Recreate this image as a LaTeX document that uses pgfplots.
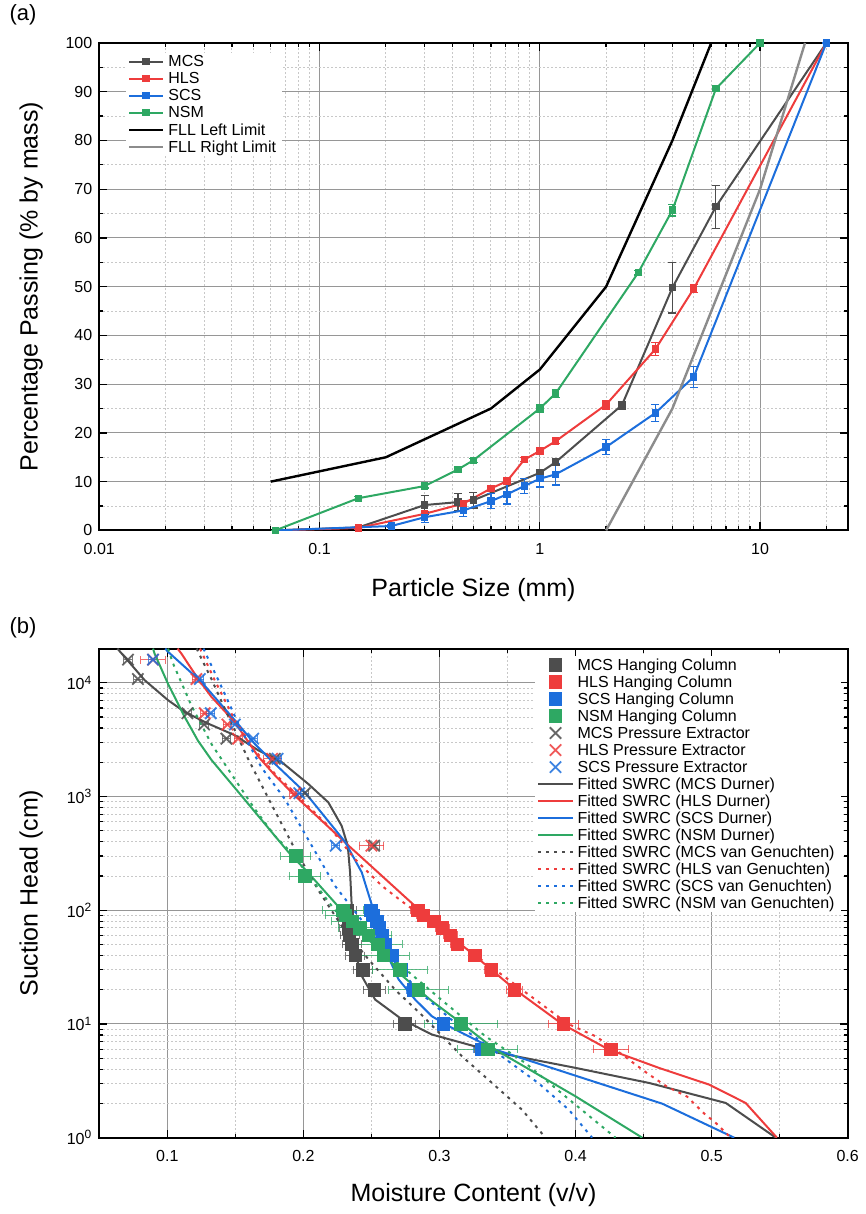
\documentclass[border=0pt]{standalone}
\usepackage{fontspec}
\setmainfont{Liberation Sans}
\usepackage{pgfplots}
\pgfplotsset{compat=1.18}
\definecolor{cmcs}{RGB}{77,77,77}
\definecolor{chls}{RGB}{238,60,60}
\definecolor{cscs}{RGB}{28,110,220}
\definecolor{cnsm}{RGB}{46,168,99}
\definecolor{cfllr}{RGB}{140,140,140}
\definecolor{gmaj}{RGB}{150,150,150}
\definecolor{gmin}{RGB}{200,200,200}
\pgfplotsset{
  myaxis/.style={
    scale only axis,
    axis line style={line width=1pt},
    tick align=inside,
    major tick length=4pt,
    minor tick length=2pt,
    every tick/.style={black, line width=0.6pt},
    grid=both,
    major grid style={gmaj, line width=0.5pt},
    minor grid style={gmin, line width=0.5pt, dash pattern=on 1pt off 1pt},
    tick label style={font=\fontsize{8}{9.6}\selectfont},
    label style={font=\fontsize{12.5}{15}\selectfont},
    /pgf/number format/assume math mode=true,
    legend cell align=left,
    legend style={draw=none, fill=white, font=\fontsize{8}{9.6}\selectfont,
      inner xsep=1pt, inner ysep=0pt, nodes={inner xsep=2pt, inner ysep=0.15pt}},
  },
  pa/.style={line width=1pt, mark=square*, mark size=1.35pt, mark options={solid},
    error bars/.cd, y dir=both, y explicit, error bar style={line width=0.6pt},
    error mark options={rotate=90, mark size=2pt, line width=0.6pt}},
  hc/.style={only marks, mark=square*, mark size=3.1pt,
    error bars/.cd, x dir=both, x explicit, error bar style={line width=0.5pt, opacity=0.75},
    error mark options={rotate=90, mark size=2pt, line width=0.5pt, opacity=0.75}},
  pe/.style={only marks, mark=x, mark size=4pt, mark options={line width=0.9pt, opacity=0.85},
    error bars/.cd, x dir=both, x explicit, error bar style={line width=0.5pt, opacity=0.75},
    error mark options={rotate=90, mark size=2pt, line width=0.5pt, opacity=0.75}},
  dur/.style={line width=1pt, no marks},
  vg/.style={line width=1pt, no marks, dash pattern=on 1.5pt off 2.5pt},
}
\begin{document}
\begin{tikzpicture}
\useasboundingbox (0,0) rectangle (433pt,607pt);
\node[font=\fontsize{11}{13}\selectfont] at (11.5pt,599.5pt) {(a)};
\node[font=\fontsize{11}{13}\selectfont] at (11.5pt,293pt) {(b)};
% ---------------- panel (a)
\begin{axis}[myaxis, at={(49.65pt,341.8pt)}, anchor=south west,
  width=374.2pt, height=243.7pt,
  xmode=log, xmin=0.01, xmax=25, ymin=0, ymax=100,
  xtick={0.01,0.1,1,10}, xticklabels={0.01,0.1,1,10},
  minor xtick={0.02,0.03,0.04,0.05,0.06,0.07,0.08,0.09,0.2,0.3,0.4,0.5,0.6,0.7,0.8,0.9,2,3,4,5,6,7,8,9,20},
  ytick={0,10,20,30,40,50,60,70,80,90,100}, minor ytick={5,15,25,35,45,55,65,75,85,95},
  xticklabel style={yshift=-3pt},
  xlabel={Particle Size (mm)}, ylabel={Percentage Passing (\% by mass)},
  xlabel style={at={(axis description cs:0.5,-0.1223)}, anchor=center},
  ylabel style={at={(axis description cs:-0.0912,0.5)}, anchor=center},
  legend style={at={(axis description cs:0.035,0.98)}, anchor=north west},
]
\addplot[color=cmcs, pa] coordinates {
 (0.063,0) +- (0,0)
 (0.15,0.6) +- (0,0.2)
 (0.3,5.2) +- (0,2.0)
 (0.425,5.8) +- (0,1.7)
 (0.5,6.2) +- (0,1.6)
 (1.0,11.8) +- (0,0.6)
 (1.18,14.0) +- (0,0.6)
 (2.36,25.7) +- (0,0.8)
 (4.0,49.8) +- (0,5.2)
 (6.3,66.4) +- (0,4.4)
 (20,100) +- (0,0)
};
\addlegendentry{\strut MCS}
\addplot[color=chls, pa] coordinates {
 (0.063,0) +- (0,0)
 (0.15,0.5) +- (0,0.2)
 (0.3,3.4) +- (0,0.5)
 (0.45,5.5) +- (0,0.5)
 (0.6,8.6) +- (0,0.4)
 (0.71,10.1) +- (0,0.3)
 (0.85,14.5) +- (0,0.4)
 (1.0,16.3) +- (0,0.4)
 (1.18,18.3) +- (0,0.4)
 (2.0,25.8) +- (0,0.9)
 (3.35,37.2) +- (0,1.4)
 (5.0,49.6) +- (0,0.8)
 (20,100) +- (0,0)
};
\addlegendentry{\strut HLS}
\addplot[color=cscs, pa] coordinates {
 (0.063,0) +- (0,0)
 (0.212,0.9) +- (0,0.3)
 (0.3,2.7) +- (0,1.0)
 (0.45,4.1) +- (0,1.3)
 (0.6,6.0) +- (0,1.5)
 (0.71,7.4) +- (0,2.0)
 (0.85,9.1) +- (0,1.6)
 (1.0,10.6) +- (0,1.7)
 (1.18,11.5) +- (0,2.2)
 (2.0,17.1) +- (0,1.6)
 (3.35,24.1) +- (0,1.8)
 (5.0,31.5) +- (0,2.2)
 (20,100) +- (0,0)
};
\addlegendentry{\strut SCS}
\addplot[color=cnsm, pa] coordinates {
 (0.063,0) +- (0,0)
 (0.15,6.6) +- (0,0.3)
 (0.3,9.1) +- (0,0.4)
 (0.425,12.5) +- (0,0.4)
 (0.5,14.4) +- (0,0.4)
 (1.0,25.0) +- (0,0.8)
 (1.18,28.1) +- (0,0.8)
 (2.8,52.9) +- (0,0.5)
 (4.0,65.7) +- (0,1.2)
 (6.3,90.6) +- (0,0.4)
 (10,100) +- (0,0)
};
\addlegendentry{\strut NSM}
\addplot[black, line width=1.2pt] coordinates {(0.06,10) (0.2,15) (0.6,25) (1,33) (2,50) (4,80) (6,100)};
\addlegendentry{\strut FLL Left Limit}
\addplot[cfllr, line width=1.2pt] coordinates {(2,0) (4,25) (10,70) (16,100)};
\addlegendentry{\strut FLL Right Limit}
\end{axis}
% ---------------- panel (b)
\begin{axis}[myaxis, at={(49.65pt,38.15pt)}, anchor=south west,
  width=374.2pt, height=244.55pt,
  ymode=log, xmin=0.05, xmax=0.6, ymin=1, ymax=20000,
  xtick={0.1,0.2,0.3,0.4,0.5,0.6}, xticklabels={0.1,0.2,0.3,0.4,0.5,0.6},
  minor xtick={0.05,0.15,0.25,0.35,0.45,0.55},
  ytick={1,10,100,1000,10000},
  yticklabels={10\textsuperscript{0},10\textsuperscript{1},10\textsuperscript{2},10\textsuperscript{3},10\textsuperscript{4}},
  minor ytick={2,3,4,5,6,7,8,9,20,30,40,50,60,70,80,90,200,300,400,500,600,700,800,900,2000,3000,4000,5000,6000,7000,8000,9000},
  xticklabel style={yshift=-3pt},
  xlabel={Moisture Content (v/v)}, ylabel={Suction Head (cm)},
  xlabel style={at={(axis description cs:0.5,-0.1172)}, anchor=center},
  ylabel style={at={(axis description cs:-0.0912,0.5)}, anchor=center},
  legend style={at={(axis description cs:0.991,0.985)}, anchor=north east},
]
\addplot[color=cmcs, hc] coordinates {
 (0.232,100) +- (0.007,0) (0.232,90) +- (0.007,0) (0.233,80) +- (0.007,0)
 (0.2335,70) +- (0.007,0) (0.234,60) +- (0.007,0) (0.2355,50) +- (0.007,0)
 (0.238,40) +- (0.007,0) (0.2436,30) +- (0.007,0) (0.252,20) +- (0.008,0)
 (0.2745,10) +- (0.008,0) (0.331,6) +- (0.005,0)
};
\addlegendentry{\strut MCS Hanging Column}
\addplot[color=chls, hc] coordinates {
 (0.284,100) +- (0.005,0) (0.288,90) +- (0.005,0) (0.296,80) +- (0.005,0)
 (0.302,70) +- (0.005,0) (0.308,60) +- (0.005,0) (0.313,50) +- (0.005,0)
 (0.326,40) +- (0.005,0) (0.338,30) +- (0.005,0) (0.355,20) +- (0.006,0)
 (0.391,10) +- (0.011,0) (0.426,6) +- (0.013,0)
};
\addlegendentry{\strut HLS Hanging Column}
\addplot[color=cscs, hc] coordinates {
 (0.2495,100) +- (0.004,0) (0.251,90) +- (0.004,0) (0.254,80) +- (0.004,0)
 (0.256,70) +- (0.004,0) (0.258,60) +- (0.004,0) (0.26,50) +- (0.004,0)
 (0.2655,40) +- (0.004,0) (0.272,30) +- (0.004,0) (0.281,20) +- (0.005,0)
 (0.303,10) +- (0.008,0) (0.331,6) +- (0.006,0)
};
\addlegendentry{\strut SCS Hanging Column}
\addplot[color=cnsm, hc] coordinates {
 (0.1945,300) +- (0.011,0) (0.2011,200) +- (0.0115,0)
 (0.229,100) +- (0.015,0) (0.231,90) +- (0.015,0) (0.236,80) +- (0.015,0)
 (0.2416,70) +- (0.016,0) (0.2478,60) +- (0.017,0) (0.2547,50) +- (0.018,0)
 (0.2588,40) +- (0.019,0) (0.271,30) +- (0.02,0) (0.2846,20) +- (0.022,0)
 (0.3158,10) +- (0.027,0) (0.3356,6) +- (0.022,0)
};
\addlegendentry{\strut NSM Hanging Column}
\addplot[color=cmcs, pe] coordinates {
 (0.0711,16000) +- (0.003,0) (0.0784,10800) +- (0.003,0) (0.1147,5400) +- (0.003,0)
 (0.127,4300) +- (0.003,0) (0.1434,3230) +- (0.003,0) (0.179,2150) +- (0.003,0)
 (0.201,1070) +- (0.003,0) (0.252,370) +- (0.004,0)
};
\addlegendentry{\strut MCS Pressure Extractor}
\addplot[color=chls, pe] coordinates {
 (0.0895,16000) +- (0.009,0) (0.1214,10800) +- (0.003,0) (0.1275,5400) +- (0.003,0)
 (0.1442,4300) +- (0.003,0) (0.152,3230) +- (0.003,0) (0.177,2150) +- (0.006,0)
 (0.194,1070) +- (0.004,0) (0.250,370) +- (0.009,0)
};
\addlegendentry{\strut HLS Pressure Extractor}
\addplot[color=cscs, pe] coordinates {
 (0.0895,16000) +- (0.003,0) (0.1239,10800) +- (0.003,0) (0.1319,5400) +- (0.003,0)
 (0.1496,4300) +- (0.003,0) (0.1631,3230) +- (0.003,0) (0.181,2150) +- (0.003,0)
 (0.197,1070) +- (0.003,0) (0.2237,370) +- (0.003,0)
};
\addlegendentry{\strut SCS Pressure Extractor}
\addplot[color=cmcs, dur] coordinates {
 (0.0633,20000) (0.0686,16900) (0.0833,10560) (0.1005,7040) (0.1128,5540) (0.130,4380)
 (0.1496,3460) (0.1668,2550) (0.184,2010) (0.2036,1290) (0.2183,889) (0.2281,553)
 (0.2326,369) (0.2343,215) (0.2355,109) (0.238,42.4) (0.2429,26.4) (0.2527,16.4)
 (0.2723,11) (0.2944,8.08) (0.3435,5.57) (0.40,4.11) (0.454,3.03) (0.5104,2.02) (0.5472,1.0)
};
\addlegendentry{\strut Fitted SWRC (MCS Durner)}
\addplot[color=chls, dur] coordinates {
 (0.1075,20000) (0.1103,18100) (0.1226,10840) (0.1324,7530) (0.1496,4510) (0.1668,2250)
 (0.179,1540) (0.1938,1016) (0.2306,395) (0.2576,201) (0.2723,139) (0.2855,100)
 (0.3263,39.5) (0.3557,20) (0.3901,10) (0.4245,5.95) (0.4613,4.11) (0.4982,2.93)
 (0.525,2.02) (0.548,1.0)
};
\addlegendentry{\strut Fitted SWRC (HLS Durner)}
\addplot[color=cscs, dur] coordinates {
 (0.0985,20000) (0.1005,18750) (0.125,10200) (0.1496,4690) (0.1643,2900) (0.1753,2140)
 (0.2011,1090) (0.2306,400) (0.2429,215) (0.2515,100) (0.26,45) (0.2699,24.7)
 (0.2821,16.4) (0.2944,11.7) (0.3067,9.57) (0.341,5.95) (0.4049,3.36) (0.4638,1.99) (0.5166,1.0)
};
\addlegendentry{\strut Fitted SWRC (SCS Durner)}
\addplot[color=cnsm, dur] coordinates {
 (0.0895,20000) (0.0906,18100) (0.1005,9800) (0.1128,5000) (0.1225,3100) (0.1324,2100)
 (0.1545,1016) (0.179,451) (0.1913,301) (0.2011,230) (0.2281,100) (0.2478,55)
 (0.2613,40) (0.2699,28.3) (0.2944,15.9) (0.3141,10.6) (0.341,5.95) (0.40,2.31) (0.449,1.0)
};
\addlegendentry{\strut Fitted SWRC (NSM Durner)}
\addplot[color=cmcs, vg] coordinates {
 (0.1215,20000) (0.1324,10800) (0.1447,5100) (0.1594,2140) (0.1766,850) (0.1938,344)
 (0.211,150) (0.2281,72.8) (0.2478,37) (0.2674,20) (0.287,12) (0.3165,5.2)
 (0.3386,3.03) (0.3607,1.76) (0.3779,1.0)
};
\addlegendentry{\strut Fitted SWRC (MCS van Genuchten)}
\addplot[color=chls, vg] coordinates {
 (0.124,20000) (0.1348,10560) (0.1496,4700) (0.1643,2550) (0.179,1590) (0.2183,553)
 (0.238,281) (0.2576,164) (0.2723,120) (0.3488,25.5) (0.3607,20) (0.3946,10)
 (0.4147,7.8) (0.4294,5.95) (0.4525,3.7) (0.4672,2.81) (0.482,2.3) (0.4943,1.64)
 (0.503,1.35) (0.514,1.0)
};
\addlegendentry{\strut Fitted SWRC (HLS van Genuchten)}
\addplot[color=cscs, vg] coordinates {
 (0.1265,20000) (0.1398,9230) (0.1545,3800) (0.1692,1800) (0.1864,950) (0.207,355)
 (0.2232,164) (0.2404,89) (0.2576,48.5) (0.2773,24.7) (0.2834,20) (0.3116,10.2)
 (0.3386,6) (0.373,3) (0.3951,1.76) (0.4122,1.0)
};
\addlegendentry{\strut Fitted SWRC (SCS van Genuchten)}
\addplot[color=cnsm, vg] coordinates {
 (0.1005,20000) (0.1042,14800) (0.1177,6300) (0.1324,2900) (0.1496,1420) (0.1643,776)
 (0.179,451) (0.1913,320) (0.2232,100) (0.262,41) (0.3042,15.3) (0.3337,7.8)
 (0.363,4.55) (0.3925,2.31) (0.4294,1.0)
};
\addlegendentry{\strut Fitted SWRC (NSM van Genuchten)}
\end{axis}
\end{tikzpicture}
\end{document}
